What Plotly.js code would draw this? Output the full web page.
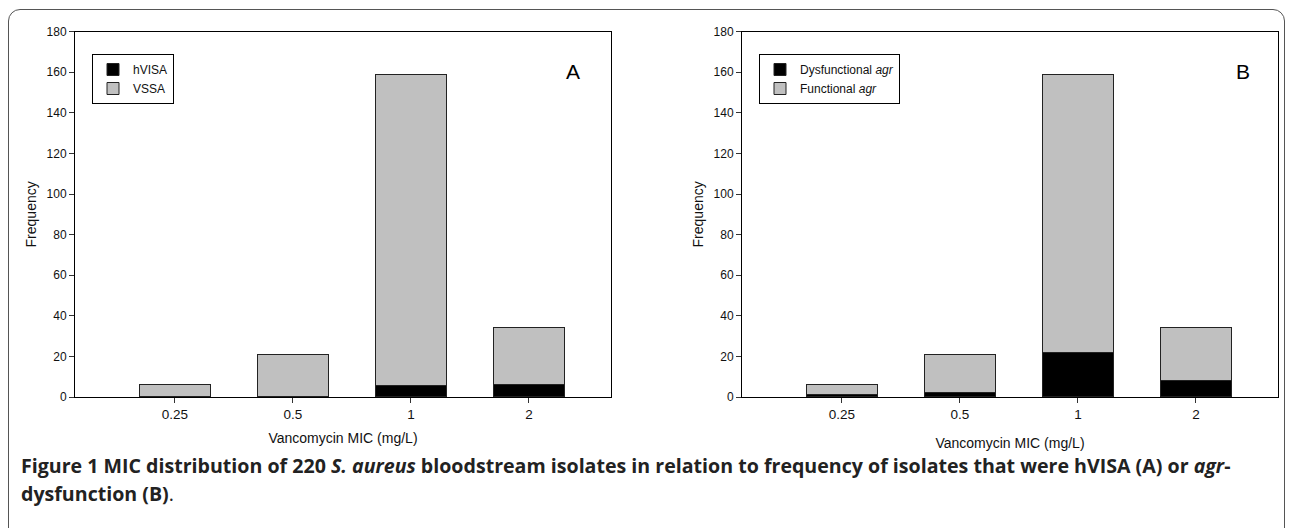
<!DOCTYPE html>
<html><head><meta charset="utf-8">
<script src="https://cdn.plot.ly/plotly-3.0.1.min.js"></script>
<style>
html,body{margin:0;padding:0;width:1290px;height:528px;overflow:hidden;background:#fff}
#frame{position:absolute;left:8px;top:9px;width:1277px;height:560px;border:1px solid #555;border-radius:12px;box-sizing:border-box}
#chart{position:absolute;left:0;top:0;width:1290px;height:528px}
</style></head>
<body><div id="frame"></div><div id="chart"></div>
<script>
// Data
const micLabels = ['0.25', '0.5', '1', '2'];
const hvisa = [0, 0, 5.5, 6];
const vssa = [6, 21, 153.5, 28];
const dysfunctionalAgr = [1, 2, 22, 8];
const functionalAgr = [5, 19, 137, 26];
const yTicks = [0, 20, 40, 60, 80, 100, 120, 140, 160, 180];

const W = 1290, H = 528;
const px = v => v / W, py = v => 1 - v / H;
const FONT = 'Liberation Sans, Arial, sans-serif';
const barLine = {color: '#222', width: 1};

const traces = [
  {type: 'bar', name: 'hVISA', x: micLabels, y: hvisa, xaxis: 'x', yaxis: 'y', width: 0.6,
   marker: {color: '#000000', line: barLine}, legend: 'legend'},
  {type: 'bar', name: 'VSSA', x: micLabels, y: vssa, xaxis: 'x', yaxis: 'y', width: 0.6,
   marker: {color: '#c0c0c0', line: barLine}, legend: 'legend'},
  {type: 'bar', name: 'Dysfunctional <i>agr</i>', x: micLabels, y: dysfunctionalAgr, xaxis: 'x2', yaxis: 'y2', width: 0.6,
   marker: {color: '#000000', line: barLine}, legend: 'legend2'},
  {type: 'bar', name: 'Functional <i>agr</i>', x: micLabels, y: functionalAgr, xaxis: 'x2', yaxis: 'y2', width: 0.6,
   marker: {color: '#c0c0c0', line: barLine}, legend: 'legend2'}
];

const yDom = [1 - 397 / H, 1 - 31.7 / H];
function xa(d0, d1, anchor, standoff) {
  return {domain: [px(d0), px(d1)], anchor: anchor, type: 'category', range: [-0.847, 3.695],
    showline: true, linecolor: '#000', linewidth: 1, mirror: true, showgrid: false, zeroline: false,
    ticks: 'outside', ticklen: 5, tickcolor: '#333', tickfont: {family: FONT, size: 13.5, color: '#111'},
    title: {text: 'Vancomycin MIC (mg/L)', font: {family: FONT, size: 14, color: '#111'}, standoff: standoff}};
}
function ya(anchor) {
  return {domain: yDom, anchor: anchor, range: [0, 180], tickvals: yTicks,
    showline: true, linecolor: '#000', linewidth: 1, mirror: true, showgrid: false, zeroline: false,
    ticks: 'outside', ticklen: 5, tickcolor: '#333', tickfont: {family: FONT, size: 12, color: '#111'},
    title: {text: 'Frequency', font: {family: FONT, size: 14, color: '#111'}, standoff: 6}};
}
function leg(x) {
  return {x: px(x), y: py(54), xanchor: 'left', yanchor: 'top', traceorder: 'normal',
    bordercolor: '#000', borderwidth: 1, bgcolor: '#fff', font: {family: FONT, size: 12, color: '#111'},
    tracegroupgap: 0, itemwidth: 30};
}

const capFont = {family: 'Open Sans, sans-serif', size: 19.6, color: '#222'};
const layout = {
  width: W, height: H, margin: {l: 0, r: 0, t: 0, b: 0},
  paper_bgcolor: 'rgba(0,0,0,0)', plot_bgcolor: '#fff',
  barmode: 'stack', showlegend: true,
  xaxis: xa(75, 611, 'y', 11), yaxis: ya('x'),
  xaxis2: xa(742, 1278, 'y2', 16), yaxis2: ya('x2'),
  legend: leg(92), legend2: leg(759),
  annotations: [
    {text: 'A', xref: 'paper', yref: 'paper', x: px(573), y: py(71), showarrow: false,
     font: {family: FONT, size: 21, color: '#000'}, xanchor: 'center', yanchor: 'middle'},
    {text: 'B', xref: 'paper', yref: 'paper', x: px(1243), y: py(71), showarrow: false,
     font: {family: FONT, size: 21, color: '#000'}, xanchor: 'center', yanchor: 'middle'},
    {text: '<b>Figure 1 MIC distribution of 220 <i>S. aureus</i> bloodstream isolates in relation to frequency of isolates that were hVISA (A) or <i>agr</i>-</b>',
     xref: 'paper', yref: 'paper', x: px(20), y: py(465), xanchor: 'left', yanchor: 'middle', align: 'left',
     showarrow: false, borderpad: 0, font: capFont},
    {text: '<b>dysfunction (B)</b>.',
     xref: 'paper', yref: 'paper', x: px(20), y: py(493), xanchor: 'left', yanchor: 'middle', align: 'left',
     showarrow: false, borderpad: 0, font: capFont}
  ]
};

Plotly.newPlot('chart', traces, layout, {displayModeBar: false, responsive: false});
</script></body></html>
